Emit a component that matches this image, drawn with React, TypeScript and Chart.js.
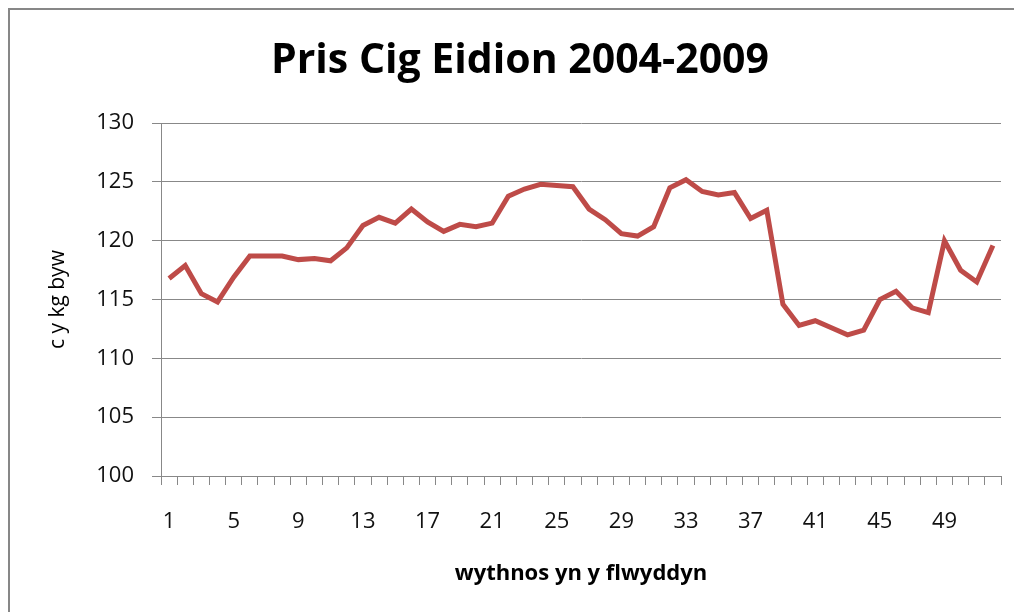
import React, { useEffect, useRef } from "react";
import { Chart, registerables } from "chart.js";

Chart.register(...registerables);

const weeks = [
  "1", "2", "3", "4", "5", "6", "7", "8", "9", "10", "11", "12", "13",
  "14", "15", "16", "17", "18", "19", "20", "21", "22", "23", "24", "25", "26",
  "27", "28", "29", "30", "31", "32", "33", "34", "35", "36", "37", "38", "39",
  "40", "41", "42", "43", "44", "45", "46", "47", "48", "49", "50", "51", "52",
];

const prices = [
  116.8, 117.9, 115.5, 114.8, 116.9, 118.7, 118.7, 118.7, 118.4, 118.5, 118.3, 119.4, 121.3,
  122.0, 121.5, 122.7, 121.6, 120.8, 121.4, 121.2, 121.5, 123.8, 124.4, 124.8, 124.7, 124.6,
  122.7, 121.8, 120.6, 120.4, 121.2, 124.5, 125.2, 124.2, 123.9, 124.1, 121.9, 122.6, 114.6,
  112.8, 113.2, 112.6, 112.0, 112.4, 115.0, 115.7, 114.3, 113.9, 120.0, 117.5, 116.5, 119.6,
];

const xTickLabels = ["1", "5", "9", "13", "17", "21", "25", "29", "33", "37", "41", "45", "49"];

const yMin = 100;
const yMax = 130;
const yStep = 5;

const titleText = "Pris Cig Eidion 2004-2009";
const xTitle = "wythnos yn y flwyddyn";
const yTitle = "c y kg byw";

const FONT = "'Open Sans', 'DejaVu Sans', sans-serif";
const GRID = "#888888";

export default function App() {
  const ref = useRef<HTMLCanvasElement | null>(null);

  useEffect(() => {
    if (!ref.current) return;
    const chart = new Chart(ref.current, {
      type: "line",
      data: {
        labels: weeks,
        datasets: [
          {
            data: prices,
            borderColor: "#BE4B48",
            borderWidth: 5,
            pointRadius: 0,
            tension: 0,
            fill: false,
            yAxisID: "y",
          },
        ],
      },
      options: {
        responsive: false,
        animation: false,
        layout: { padding: { left: 8, right: 0, top: 0, bottom: 0 } },
        plugins: {
          legend: { display: false },
          tooltip: { enabled: false },
          title: {
            display: true,
            text: titleText,
            color: "#000",
            font: { family: FONT, size: 41, weight: "bold", lineHeight: 1.2 },
            padding: { top: 27, bottom: 37 },
          },
        },
        scales: {
          x: {
            type: "category",
            offset: true,
            grid: {
              offset: true,
              drawOnChartArea: false,
              drawTicks: true,
              tickLength: 9,
              color: GRID,
            },
            border: { color: GRID, width: 1 },
            ticks: {
              autoSkip: false,
              maxRotation: 0,
              minRotation: 0,
              padding: 24,
              color: "#111",
              font: { family: FONT, size: 22 },
              callback: function (this: any, value: any, index: number) {
                const lab = weeks[index];
                return xTickLabels.includes(lab) ? lab : "";
              },
            },
            title: {
              display: true,
              text: xTitle,
              color: "#000",
              font: { family: FONT, size: 22, weight: "bold", lineHeight: 1.2 },
              padding: { top: 0, bottom: 25 },
            },
            afterFit: (scale: any) => {
              scale.height = 136;
            },
          },
          y: {
            min: yMin,
            max: yMax,
            grid: { color: GRID, lineWidth: 1, tickLength: 9 },
            border: { color: GRID, width: 1 },
            ticks: {
              stepSize: yStep,
              padding: 18,
              color: "#111",
              font: { family: FONT, size: 22 },
            },
            title: {
              display: true,
              text: yTitle,
              color: "#000",
              font: { family: FONT, size: 21, lineHeight: 1.2 },
              padding: { top: 27, bottom: 0 },
            },
            afterFit: (scale: any) => {
              scale.width = 143;
            },
          },
          yRight: {
            position: "right",
            display: true,
            min: yMin,
            max: yMax,
            grid: { display: false, drawOnChartArea: false },
            border: { display: false },
            ticks: { display: false },
            afterFit: (scale: any) => {
              scale.width = 21;
            },
          },
        },
      },
    });
    return () => chart.destroy();
  }, []);

  return (
    <div
      style={{
        width: 1012,
        height: 602,
        borderLeft: "2px solid #878787",
        borderTop: "2px solid #878787",
        background: "#fff",
      }}
    >
      <canvas ref={ref} width={1012} height={602} style={{ display: "block" }} />
    </div>
  );
}
